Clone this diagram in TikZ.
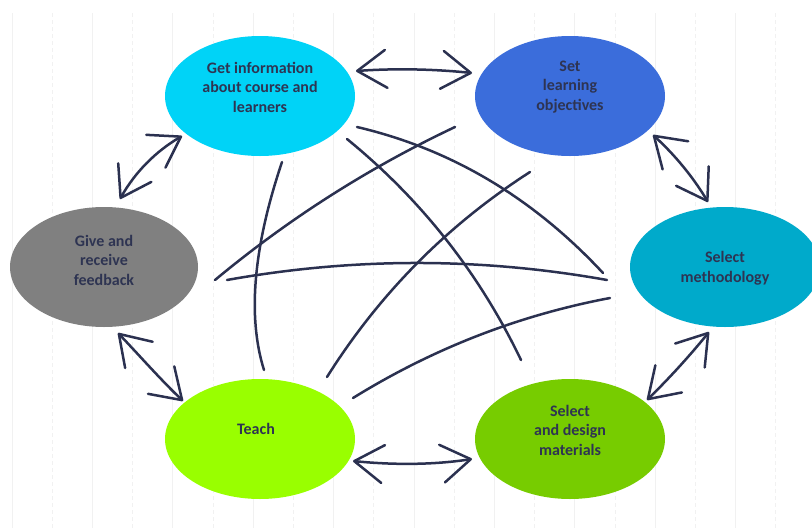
\documentclass[tikz,border=0pt]{standalone}
\usepackage{fontspec}
\setmainfont{Carlito}
\usetikzlibrary{arrows.meta,shapes.geometric}
\definecolor{cgi}{HTML}{00D3F7}
\definecolor{cso}{HTML}{3B6DDB}
\definecolor{cme}{HTML}{00AACB}
\definecolor{cma}{HTML}{77CC00}
\definecolor{cte}{HTML}{99FF00}
\definecolor{cfb}{HTML}{808080}
\definecolor{txt}{HTML}{2E3452}
\definecolor{lnc}{HTML}{2B3150}
\definecolor{grid}{HTML}{F1F1F1}
\tikzset{
  blob/.style={ellipse, minimum width=190pt, minimum height=120pt, inner sep=0pt, draw=none},
  lbl/.style={align=center, text=txt, font=\fontsize{16}{19.5}\selectfont\bfseries, inner sep=0pt},
  cross/.style={draw=lnc, line width=2.5pt, line cap=round},
  twoway/.style={draw=lnc, line width=2.5pt, line cap=round, line join=round,
     {Straight Barb[length=29pt,width=38pt,round]}-{Straight Barb[length=29pt,width=38pt,round]}},
  gridsolid/.style={draw=grid, line width=0.8pt},
  griddash/.style={draw=grid, line width=0.8pt, dash pattern=on 4pt off 3pt}
}
\begin{document}
\begin{tikzpicture}[x=1pt,y=-1pt]
\useasboundingbox (0,0) rectangle (812,528);
\fill[white] (0,0) rectangle (812,528);
% background rulings
\foreach \k in {0,2,...,18} {\draw[gridsolid] ({12+40.2*\k},13) -- ({12+40.2*\k},528);}
\foreach \k in {1,3,...,19} {\draw[griddash] ({12+40.2*\k},13) -- ({12+40.2*\k},528);}

% ellipses
\node[blob, fill=cgi] (gi) at (260,96) {};
\node[blob, fill=cso] (so) at (570,96) {};
\node[blob, fill=cme] (me) at (725,267) {};
\node[blob, fill=cma] (ma) at (570,439) {};
\node[blob, fill=cte] (te) at (260,439) {};
\node[blob, fill=cfb, minimum width=188pt] (fb) at (104,267) {};

% labels
\node[lbl] (gil) at (260,87) {Get information\\about course and\\learners};
\node[lbl] (sol) at (570,87) {Set\\learning\\objectives};
\node[lbl] (mel) at (725,268) {Select\\methodology};
\node[lbl] (mal) at (570,430) {Select\\and design\\materials};
\node[lbl] (tel) at (256,429) {Teach};
\node[lbl] (fbl) at (104,260) {Give and\\receive\\feedback};

% connector end points
\coordinate (gi-so) at (356,71);   \coordinate (so-gi) at (472,73);
\coordinate (so-me) at (653,135);  \coordinate (me-so) at (708,202);
\coordinate (me-ma) at (709,332);  \coordinate (ma-me) at (647,400);
\coordinate (ma-te) at (472,459);  \coordinate (te-ma) at (353,461);
\coordinate (te-fb) at (183,401);  \coordinate (fb-te) at (118,333);
\coordinate (fb-gi) at (120,199);  \coordinate (gi-fb) at (182,136);

% two-way arrows around the cycle
\draw[twoway] (gi-so) .. controls (394.7,68.3) and (433.3,69) .. (so-gi);
\draw[twoway] (so-me) .. controls (674.7,154.7) and (693,177) .. (me-so);
\draw[twoway] (me-ma) .. controls (689.8,355.7) and (669.2,378.3) .. (ma-me);
\draw[twoway] (ma-te) .. controls (433,465) and (393,465) .. (te-ma);
\draw[twoway] (te-fb) .. controls (160,379) and (139,355) .. (fb-te);
\draw[twoway] (fb-gi) .. controls (134.9,172.4) and (155.6,151.4) .. (gi-fb);

% crossing connections
\coordinate (c1a) at (282,162); \coordinate (c1b) at (264,370);
\coordinate (c2a) at (215,280); \coordinate (c2b) at (455,127);
\coordinate (c3a) at (227,280); \coordinate (c3b) at (607,280);
\coordinate (c4a) at (357,127); \coordinate (c4b) at (603,273);
\coordinate (c5a) at (347,139); \coordinate (c5b) at (521,360);
\coordinate (c6a) at (327,377); \coordinate (c6b) at (530,172);
\coordinate (c7a) at (353,398); \coordinate (c7b) at (610,298);

\draw[cross] (c1a) .. controls (253.3,247.3) and (247.3,316.7) .. (c1b);
\draw[cross] (c2a) .. controls (288.3,219) and (368.3,168) .. (c2b);
\draw[cross] (c3a) .. controls (353.7,257.3) and (480.3,257.3) .. (c3b);
\draw[cross] (c4a) .. controls (451,149) and (533,197.7) .. (c4b);
\draw[cross] (c5a) .. controls (421.4,199.7) and (479.4,273.4) .. (c5b);
\draw[cross] (c6a) .. controls (379.5,293.6) and (447.1,225.3) .. (c6b);
\draw[cross] (c7a) .. controls (432.7,348.7) and (518.3,315.3) .. (c7b);
\end{tikzpicture}
\end{document}
